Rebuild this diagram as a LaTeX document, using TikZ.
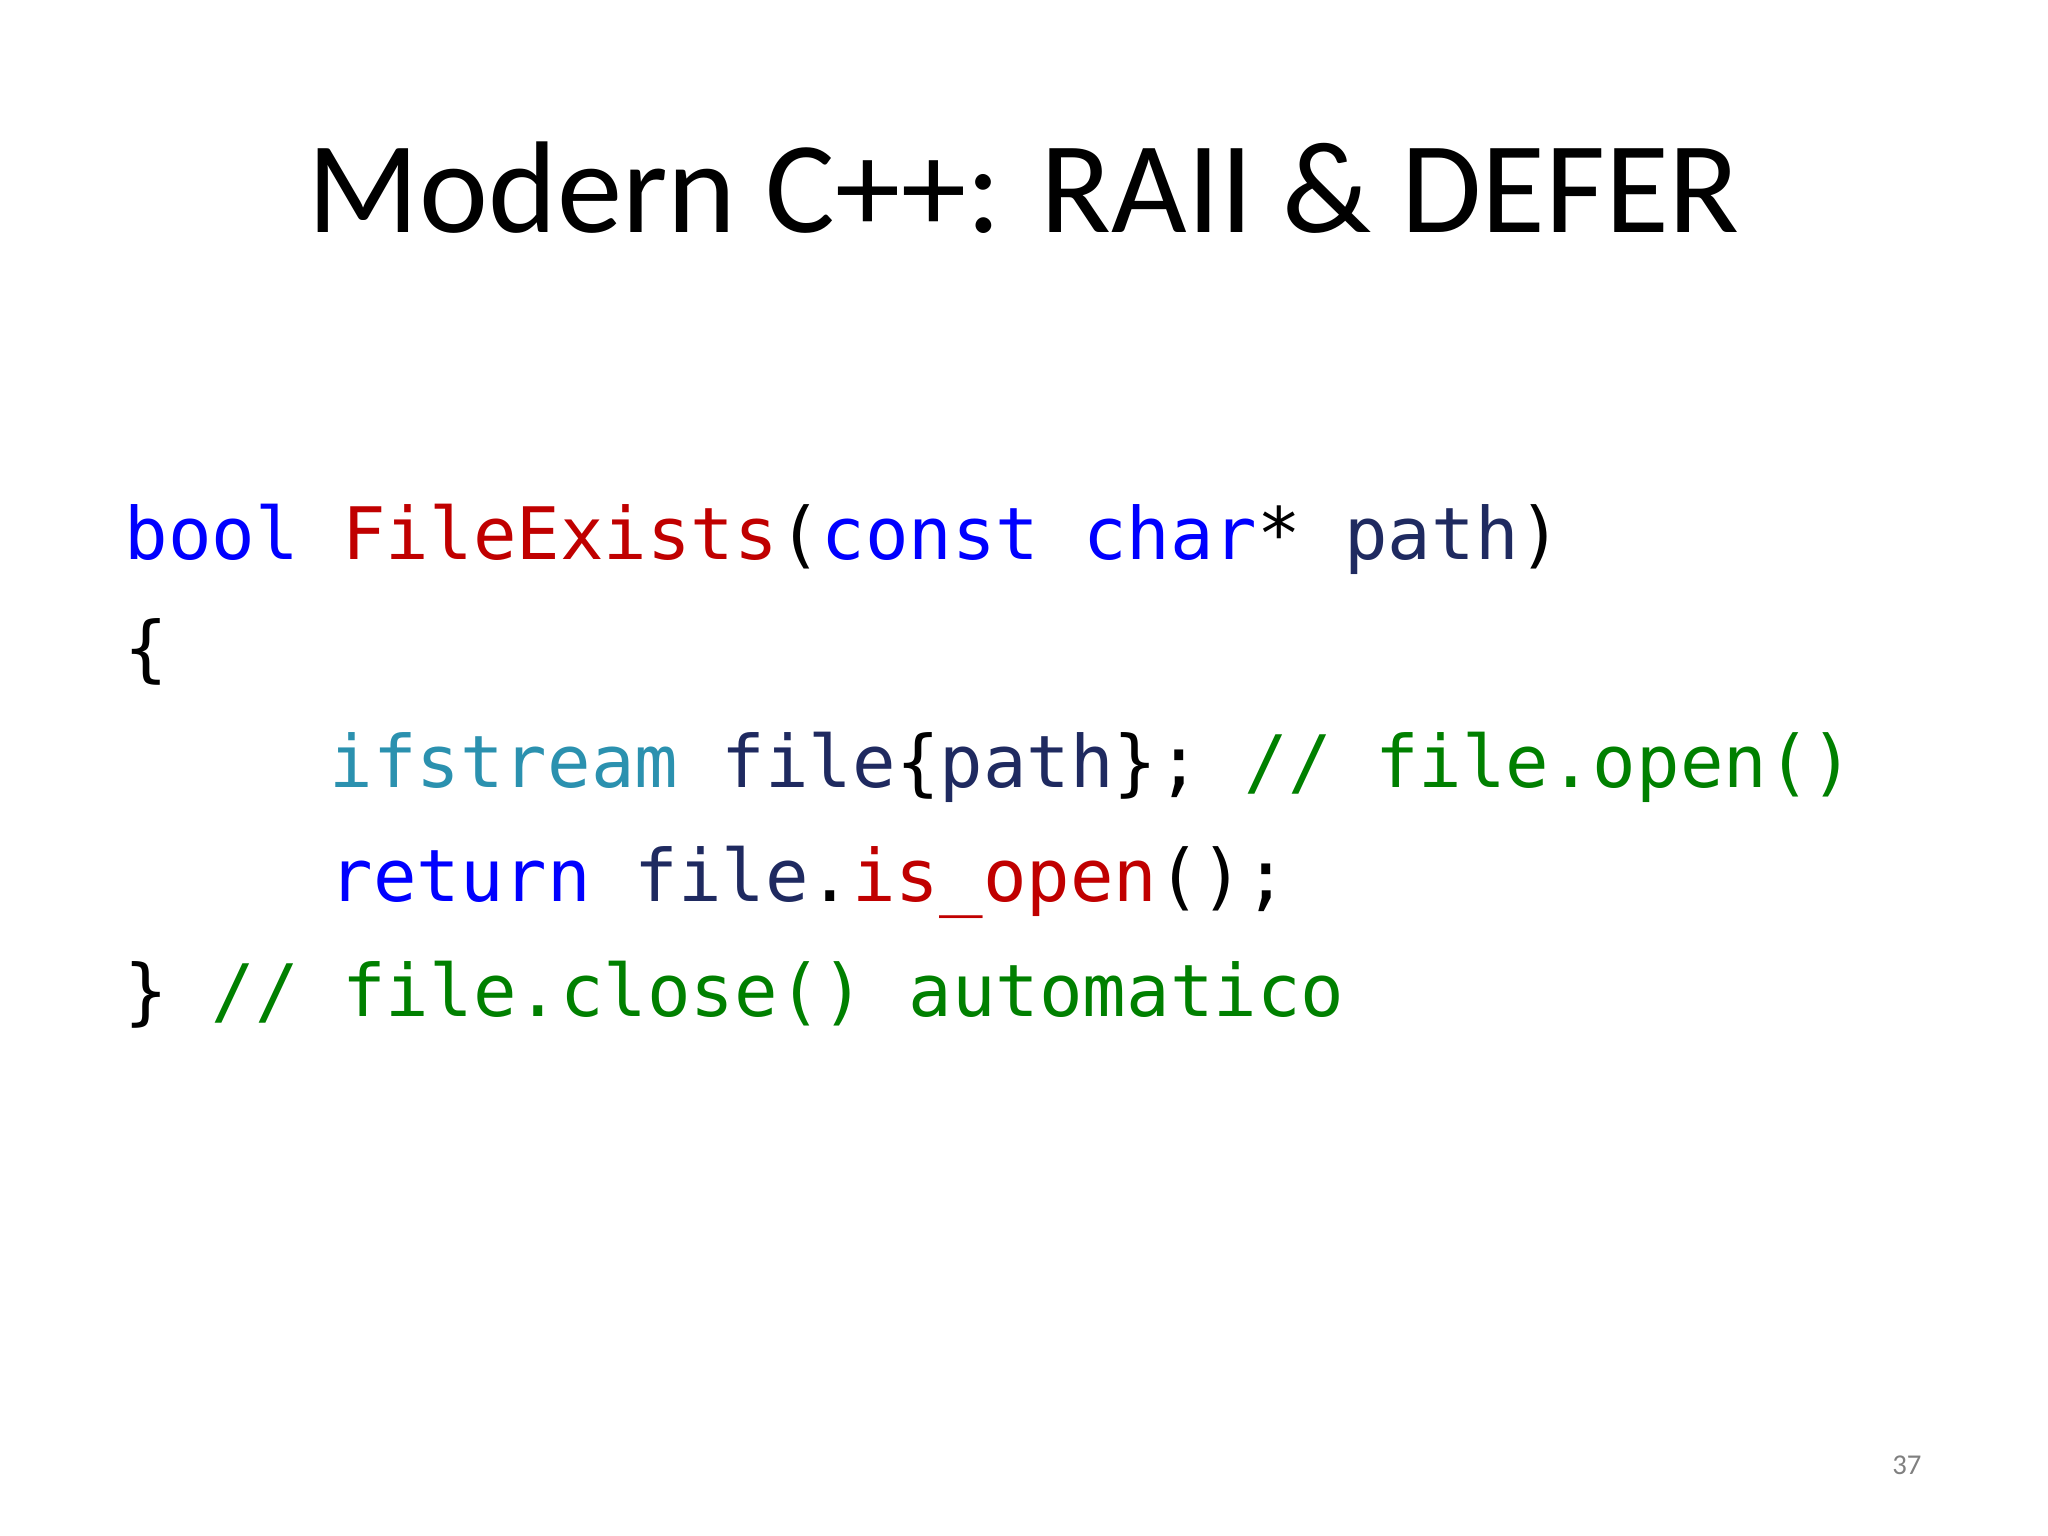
\documentclass[tikz,border=0pt]{standalone}
\usepackage{fontspec}
\setmainfont{Carlito}
\newfontfamily\codefont{DejaVu Sans Mono}
\definecolor{kw}{RGB}{0,0,255}
\definecolor{fn}{RGB}{192,0,0}
\definecolor{id}{RGB}{31,42,96}
\definecolor{ty}{RGB}{43,145,175}
\definecolor{cm}{RGB}{0,128,0}
\begin{document}
\begin{tikzpicture}[x=0.5pt,y=-0.5pt,
  code/.style={anchor=base west,inner sep=0pt,font=\codefont\fontsize{27.7}{30}\selectfont}]
\useasboundingbox (0,0) rectangle (1568,1176);
\node[anchor=base,inner sep=0pt,font=\fontsize{50}{56}\selectfont] (title) at (784,178) {Modern C++: RAII \& DEFER};
\node[code] (l1) at (95,428) {\textcolor{kw}{bool} \textcolor{fn}{FileExists}(\textcolor{kw}{const} \textcolor{kw}{char}* \textcolor{id}{path})};
\node[code] (l2) at (95,516) {\{};
\node[code] (l3) at (252,603) {\textcolor{ty}{ifstream} \textcolor{id}{file}\{\textcolor{id}{path}\}; \textcolor{cm}{// file.open()}};
\node[code] (l4) at (252,690) {\textcolor{kw}{return} \textcolor{id}{file}.\textcolor{fn}{is\_open}();};
\node[code] (l5) at (95,778) {\} \textcolor{cm}{// file.close() automatico}};
\node[anchor=base,inner sep=0pt,text=gray,font=\fontsize{11}{13}\selectfont] (pg) at (1460,1129) {37};
\end{tikzpicture}
\end{document}
